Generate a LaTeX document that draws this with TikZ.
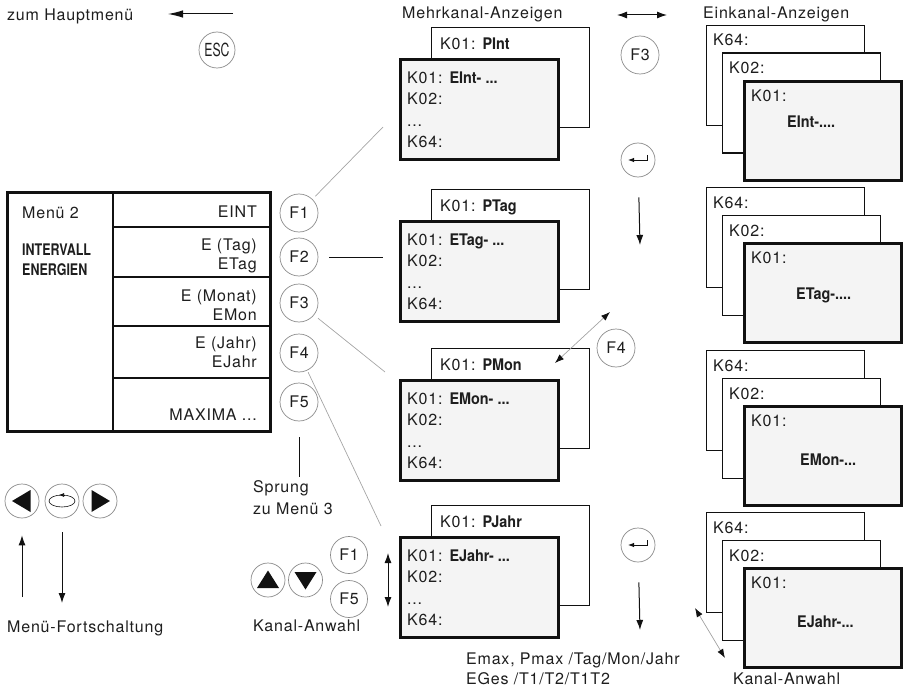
\documentclass[tikz,border=0pt]{standalone}
\usepackage{fontspec}
\setmainfont{TeX Gyre Heros}[LetterSpace=5]
\newfontfamily\winbold{TeX Gyre Heros}[FakeStretch=0.9]
\newfontfamily\titlebold{TeX Gyre Heros}[FakeStretch=0.78]
\newfontfamily\esckey{TeX Gyre Heros}[FakeStretch=0.68]
\usepackage{tikz}
\usetikzlibrary{positioning,arrows.meta,calc}
\definecolor{ink}{HTML}{111111}
\definecolor{txtgrey}{HTML}{1E1E1E}
\definecolor{keygrey}{HTML}{8A8A8A}
\definecolor{linkgrey}{HTML}{A5A5A5}
\definecolor{screen}{HTML}{F4F4F4}
\newcommand{\bx}[1]{{\winbold\bfseries #1}}
\tikzset{
  lbl/.style={font=\fontsize{16}{21.5}\selectfont,text=txtgrey,inner sep=0pt,align=left},
  celltxt/.style={lbl,align=right,font=\fontsize{16}{19}\selectfont},
  key/.style={circle,draw=keygrey,line width=0.7pt,minimum size=38pt,inner sep=0pt,font=\fontsize{16}{16}\selectfont,text=txtgrey},
  smallkey/.style={key,minimum size=34pt},
  menuline/.style={draw=ink,line width=2.6pt},
  backwin/.style={draw=ink,line width=1.1pt,fill=white,minimum width=158pt,minimum height=100pt,inner sep=0pt},
  frontwin/.style={draw=ink,line width=2.6pt,fill=screen,minimum width=158pt,minimum height=100pt,inner sep=0pt},
  flow/.style={-{Latex[length=10pt,width=7pt]},draw=ink,line width=1pt},
  twoflow/.style={{Latex[length=10pt,width=7pt]}-{Latex[length=10pt,width=7pt]},draw=ink,line width=1pt},
  greyflow/.style={{Latex[length=9pt,width=6.5pt,color=ink]}-{Latex[length=9pt,width=6.5pt,color=ink]},draw=linkgrey,line width=0.7pt},
  link/.style={draw=linkgrey,line width=0.7pt},
  blacklink/.style={draw=ink,line width=1pt}}
\begin{document}
\begin{tikzpicture}[x=1pt,y=-1pt]
  \useasboundingbox (0,0) rectangle (905,690);
  % top line
  \node[lbl,anchor=base west] (haupt) at (7,21) {zum Hauptmenü};
  \coordinate (hmfrom) at (233,14);
  \coordinate (hmto) at (168,14);
  \draw[flow,-{Latex[length=15pt,width=7.5pt]}] (hmfrom) -- (hmto);
  \node[key,minimum size=36pt,font=\esckey\fontsize{18}{18}\selectfont] (esc) at (217,50) {ESC};
  \node[lbl,anchor=base west] (mehr) at (402,18.5) {Mehrkanal-Anzeigen};
  \node[lbl,anchor=base west] (ein) at (703,18.5) {Einkanal-Anzeigen};
  \coordinate (swl) at (617,15);
  \coordinate (swr) at (667,15);
  \draw[twoflow] (swl) -- (swr);
  \node[key] (f3top) at (640,55) {F3};
  % menu 2
  \node[menuline,minimum width=263pt,minimum height=239pt,inner sep=0pt,anchor=north west] (menu) at (6,191) {};
  \draw[menuline] (113,191) -- (113,430);
  \foreach \y in {227,277,326,378} \draw[menuline] (113,\y) -- (269,\y);
  \node[lbl,anchor=base west] (m2) at (22,218) {Menü 2};
  \node[lbl,anchor=north west,font=\titlebold\bfseries\fontsize{16}{20}\selectfont] (mtitle) at (22,243.5) {INTERVALL\\ENERGIEN};
  \node[celltxt,anchor=base east] (c1) at (257,217) {EINT};
  \node[celltxt,anchor=north east] (c2) at (257,239) {E (Tag)\\ETag};
  \node[celltxt,anchor=north east] (c3) at (257,289.5) {E (Monat)\\EMon};
  \node[celltxt,anchor=north east] (c4) at (257,337) {E (Jahr)\\EJahr};
  \node[celltxt,anchor=base east] (c5) at (257,420.5) {MAXIMA ...};
  \foreach \n/\y in {1/213,2/257,3/303,4/353,5/402} \node[key] (f\n) at (299,\y) {F\n};
  % multi channel windows
  \foreach \n/\y/\p/\e in {1/27/PInt/EInt,2/189/PTag/ETag,3/348/PMon/EMon,4/505/PJahr/EJahr}{
    \node[backwin,anchor=north west] (mb\n) at (431,\y) {};
    \node[lbl,anchor=base west] (mbt\n) at ([xshift=9pt,yshift=-22.7pt]mb\n.north west) {K01: \bx{\p}};
    \node[frontwin,anchor=north west] (mf\n) at ([xshift=-32pt,yshift=-31pt]mb\n.north west) {};
    \node[lbl,anchor=north west] (mft\n) at ([xshift=8pt,yshift=-13.5pt]mf\n.north west) {K01: \bx{\e- ...}\\K02:\\...\\K64:};
  }
  \coordinate (w1in) at (383,127);
  \coordinate (w2in) at (383,257);
  \coordinate (w3in) at (385,372);
  \coordinate (w4in) at (381,526);
  \draw[link,shorten <=4pt] (f1) -- (w1in);
  \draw[blacklink,shorten <=11pt] (f2) -- (w2in);
  \draw[link,shorten <=5pt] (f3) -- (w3in);
  \draw[link,shorten <=2pt] (f4) -- (w4in);
  % single channel stacks
  \foreach \n/\y/\e/\bxo/\byo in {1/25/{EInt-....}/44/48,2/187/{ETag-....}/53/57,3/350/{EMon-...}/57/60.5,4/512/{EJahr-...}/54/60}{
    \node[backwin,anchor=north west] (sa\n) at (706,\y) {};
    \node[lbl,anchor=base west] (sat\n) at ([xshift=7pt,yshift=-21pt]sa\n.north west) {K64:};
    \node[backwin,anchor=north west] (sb\n) at ([xshift=16pt,yshift=-27.5pt]sa\n.north west) {};
    \node[lbl,anchor=base west] (sbt\n) at ([xshift=7pt,yshift=-21.5pt]sb\n.north west) {K02:};
    \node[frontwin,minimum width=157pt,minimum height=99pt,anchor=north west] (sc\n) at ([xshift=37pt,yshift=-55pt]sa\n.north west) {};
    \node[lbl,anchor=base west] (sct\n) at ([xshift=8pt,yshift=-21.5pt]sc\n.north west) {K01:};
    \node[lbl,anchor=base west] (scv\n) at ([xshift=\bxo pt,yshift=-\byo pt]sc\n.north west) {\bx{\e}};
  }
  % enter and function keys between the columns
  \node[key,minimum size=34pt] (ent1) at (638,160) {};
  \draw[-{Latex[length=6pt,width=4.5pt]},ink,line width=0.9pt] ([xshift=9pt,yshift=5pt]ent1.center) -- ([xshift=9pt]ent1.center) -- ([xshift=-10pt]ent1.center);
  \coordinate (dn1) at (640,245);
  \draw[flow,shorten <=20pt] (ent1) -- (dn1);
  \node[key] (f4r) at (616,348) {F4};
  \coordinate (f4a) at (610,312);
  \coordinate (f4b) at (555,363);
  \draw[greyflow] (f4a) -- (f4b);
  \node[key,minimum size=34pt] (ent2) at (638,545) {};
  \draw[-{Latex[length=6pt,width=4.5pt]},ink,line width=0.9pt] ([xshift=9pt,yshift=5pt]ent2.center) -- ([xshift=9pt]ent2.center) -- ([xshift=-10pt]ent2.center);
  \coordinate (dn2) at (640,630);
  \draw[flow,shorten <=20pt] (ent2) -- (dn2);
  \node[lbl,anchor=north west,font=\fontsize{16}{20.5}\selectfont] (emax) at (466,652.5) {Emax, Pmax /Tag/Mon/Jahr\\EGes /T1/T2/T1T2};
  \coordinate (kr1) at (695,608);
  \coordinate (kr2) at (725,658);
  \draw[greyflow] (kr1) -- (kr2);
  \node[lbl,anchor=base west] (kanal2) at (733,684.5) {Kanal-Anwahl};
  % sprung
  \node[lbl,anchor=north west] (sprung) at (253,480.5) {Sprung\\zu Menü 3};
  \draw[blacklink,shorten <=16pt,shorten >=3.5pt] (f5) -- (f5 |- sprung.north);
  % menu keys
  \node[smallkey] (kl) at (22,501) {};
  \node[smallkey] (krot) at (62,501) {};
  \node[smallkey] (kr) at (100,501) {};
  \fill[ink,shift={(kl.center)}] (-10pt,0pt) -- (8.5pt,11pt) -- (8.5pt,-11pt) -- cycle;
  \fill[ink,shift={(kr.center)}] (10pt,0pt) -- (-8.5pt,11pt) -- (-8.5pt,-11pt) -- cycle;
  \draw[ink,line width=0.6pt] (krot.center) ellipse [x radius=13pt,y radius=6pt];
  \draw[-{Latex[length=5pt,width=4pt]},ink,line width=0.6pt] ([xshift=3pt,yshift=6pt]krot.center) -- ([xshift=-3pt,yshift=6pt]krot.center);
  \coordinate (mfup) at (22,597);
  \coordinate (mfdn) at (62,603);
  \draw[flow,shorten >=17pt] (mfup) -- (kl);
  \draw[flow,shorten <=14pt] (krot) -- (mfdn);
  \node[lbl,anchor=base west] (fort) at (7,632) {Menü-Fortschaltung};
  % channel keys
  \node[smallkey] (kup) at (268,580) {};
  \node[smallkey] (kdn) at (305.5,580) {};
  \fill[ink,shift={(kup.center)}] (0pt,9.5pt) -- (11pt,-8pt) -- (-11pt,-8pt) -- cycle;
  \fill[ink,shift={(kdn.center)}] (0pt,-9.5pt) -- (11pt,8pt) -- (-11pt,8pt) -- cycle;
  \node[key,minimum size=37pt] (kf1) at (349,555) {F1};
  \node[key,minimum size=37pt] (kf5) at (349,599) {F5};
  \coordinate (kaa) at (388,553);
  \coordinate (kab) at (388,607);
  \draw[twoflow] (kaa) -- (kab);
  \node[lbl,anchor=base west] (kanal) at (253,631) {Kanal-Anwahl};
\end{tikzpicture}
\end{document}
